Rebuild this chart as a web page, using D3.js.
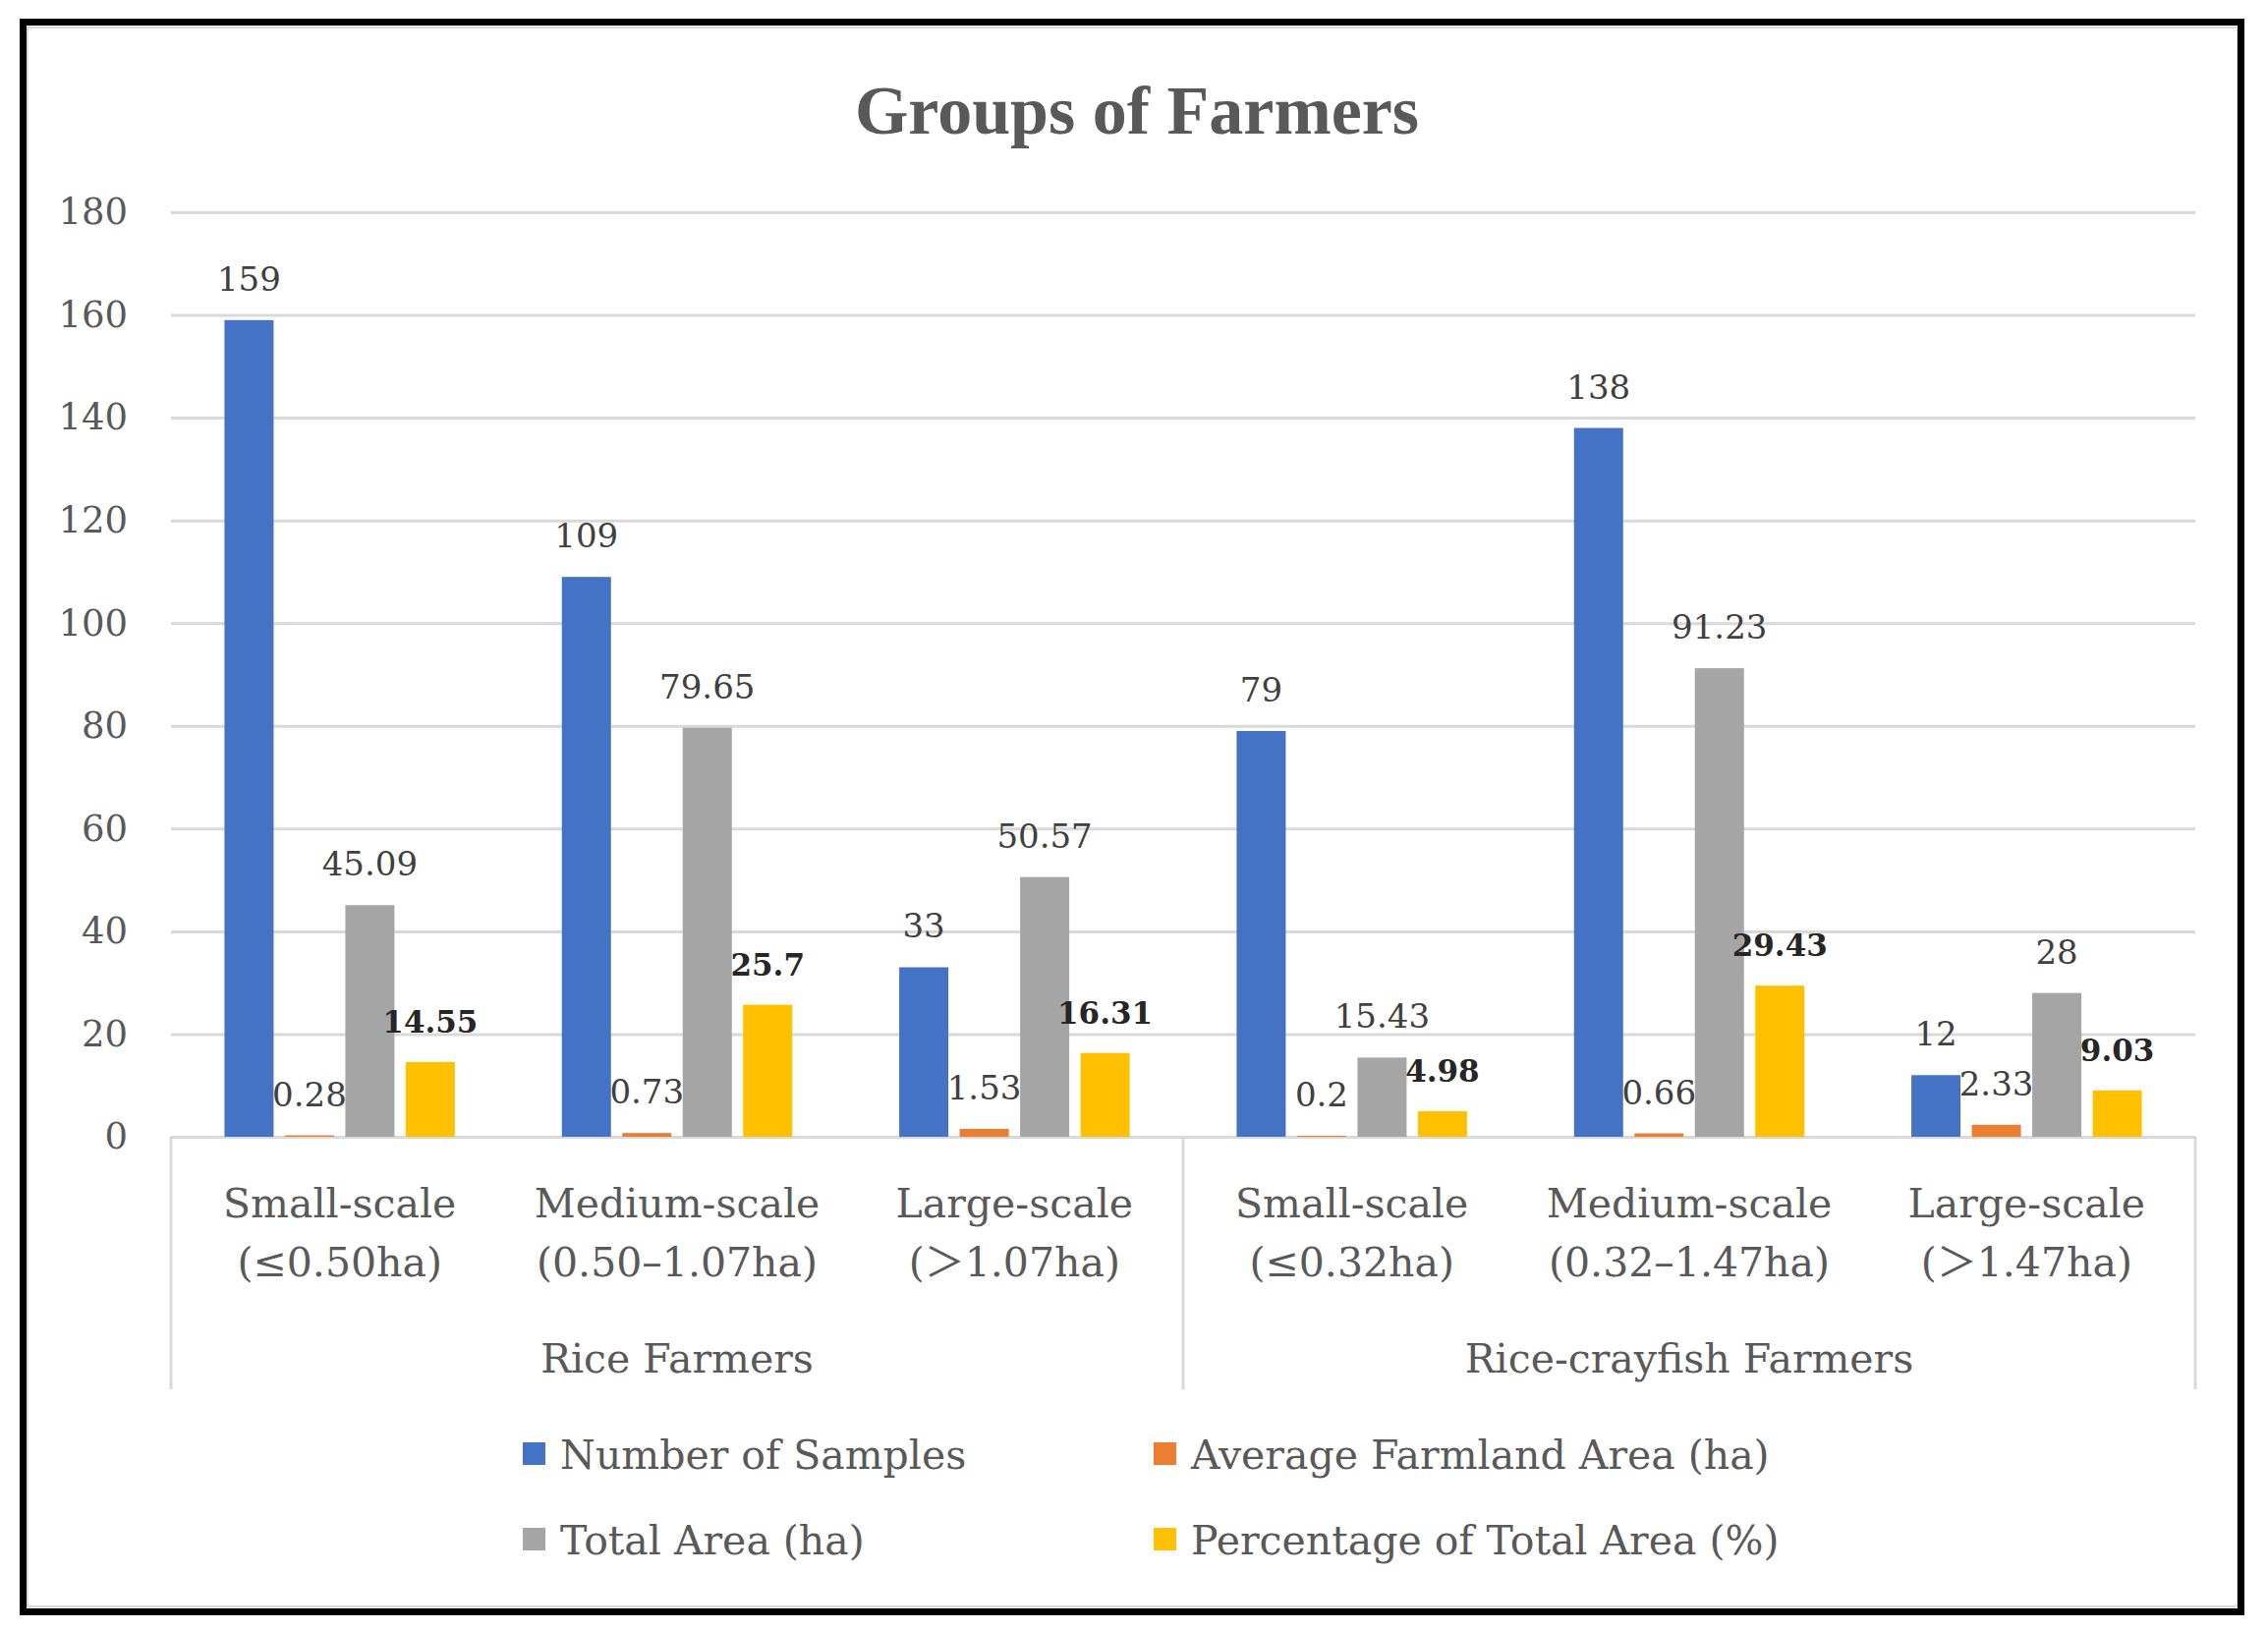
<!DOCTYPE html>
<html>
<head>
<meta charset="utf-8">
<script src="https://cdn.jsdelivr.net/npm/d3@7/dist/d3.min.js"></script>
<style>
  body { margin: 0; background: #fff; }
  svg text { font-family: "DejaVu Serif", "Noto Sans CJK SC", serif; }
</style>
</head>
<body>
<div id="chart"></div>
<script>
// chart data
var categories = ["Small-scale", "Medium-scale", "Large-scale", "Small-scale", "Medium-scale", "Large-scale"];
var ranges     = ["(≤0.50ha)", "(0.50–1.07ha)", "(＞1.07ha)", "(≤0.32ha)", "(0.32–1.47ha)", "(＞1.47ha)"];
var groups     = ["Rice Farmers", "Rice-crayfish Farmers"];
var seriesNames = ["Number of Samples", "Average Farmland Area (ha)", "Total Area (ha)", "Percentage of Total Area (%)"];
var samples    = [159, 109, 33, 79, 138, 12];
var avgArea    = [0.28, 0.73, 1.53, 0.2, 0.66, 2.33];
var totalArea  = [45.09, 79.65, 50.57, 15.43, 91.23, 28];
var pctArea    = [14.55, 25.7, 16.31, 4.98, 29.43, 9.03];
var yTicks     = [0, 20, 40, 60, 80, 100, 120, 140, 160, 180];

var colors = ['#4472C4', '#ED7D31', '#A5A5A5', '#FFC000'];
var textColor = '#595959';

var W = 2308, H = 1659;
var plotLeft = 174, plotRight = 2234, plotTop = 216, plotBottom = 1157;

var svg = d3.select("#chart").append("svg")
    .attr("width", W).attr("height", H);

svg.append("rect").attr("width", W).attr("height", H).attr("fill", "#fff");

// frame
svg.append("rect").attr("x", 28).attr("y", 28).attr("width", 2249).attr("height", 1607)
    .attr("fill", "none").attr("stroke", "#d9d9d9").attr("stroke-width", 2);
svg.append("rect").attr("x", 23.5).attr("y", 22.5).attr("width", 2257).attr("height", 1618)
    .attr("fill", "none").attr("stroke", "#000").attr("stroke-width", 7);

// title
svg.append("text").attr("x", 1157).attr("y", 136).attr("text-anchor", "middle")
    .style("font-family", "'Liberation Serif', serif")
    .attr("font-size", 70).attr("font-weight", "bold").attr("fill", textColor)
    .text("Groups of Farmers");

var x0 = d3.scaleBand().domain(d3.range(categories.length)).range([plotLeft, plotRight]);
var x1 = d3.scaleBand().domain(d3.range(seriesNames.length)).range([0, x0.bandwidth()])
    .paddingInner(0.187).paddingOuter(0.885);
var y = d3.scaleLinear().domain([0, 180]).range([plotBottom, plotTop]);

// y axis + gridlines
var yAxis = svg.append("g").attr("transform", "translate(" + plotLeft + ",0)")
    .call(d3.axisLeft(y).tickValues(yTicks).tickSize(-(plotRight - plotLeft)).tickPadding(44));
yAxis.select(".domain").remove();
yAxis.selectAll("line").attr("stroke", "#d9d9d9").attr("stroke-width", 3);
yAxis.selectAll("text").attr("font-size", 37).attr("fill", textColor)
    .style("font-family", "'DejaVu Serif', serif");

// category axis separators
[plotLeft, x0(3), plotRight].forEach(function(xx){
    svg.append("line").attr("x1", xx).attr("x2", xx).attr("y1", plotBottom).attr("y2", 1414)
        .attr("stroke", "#d9d9d9").attr("stroke-width", 3);
});

var seriesData = [samples, avgArea, totalArea, pctArea];

// bars
seriesData.forEach(function(vals, s){
    svg.append("g").selectAll("rect").data(vals).enter().append("rect")
        .attr("x", function(d, i){ return x0(i) + x1(s); })
        .attr("y", function(d){ return y(d); })
        .attr("width", x1.bandwidth())
        .attr("height", function(d){ return y(0) - y(d); })
        .attr("fill", colors[s]);
});

// data labels
seriesData.forEach(function(vals, s){
    svg.append("g").selectAll("text").data(vals).enter().append("text")
        .attr("x", function(d, i){ return x0(i) + x1(s) + x1.bandwidth() / 2; })
        .attr("y", function(d){ return y(d) - 30; })
        .attr("text-anchor", "middle")
        .attr("font-size", s == 3 ? 31 : 34)
        .attr("font-weight", s == 3 ? "bold" : "normal")
        .attr("fill", s == 3 ? "#262626" : "#404040")
        .text(function(d){ return d; });
});

// category labels
svg.append("g").selectAll("text").data(categories).enter().append("text")
    .attr("x", function(d, i){ return x0(i) + x0.bandwidth() / 2; })
    .attr("y", 1239).attr("text-anchor", "middle")
    .attr("font-size", 41).attr("fill", textColor)
    .text(function(d){ return d; });
svg.append("g").selectAll("text").data(ranges).enter().append("text")
    .attr("x", function(d, i){ return x0(i) + x0.bandwidth() / 2; })
    .attr("y", 1299).attr("text-anchor", "middle")
    .attr("font-size", 41).attr("fill", textColor)
    .text(function(d){ return d; });
svg.append("g").selectAll("text").data(groups).enter().append("text")
    .attr("x", function(d, i){ return (x0(i * 3) + x0(i * 3 + 2) + x0.bandwidth()) / 2; })
    .attr("y", 1397).attr("text-anchor", "middle")
    .attr("font-size", 41).attr("fill", textColor)
    .text(function(d){ return d; });

// legend
var legendX = [532, 1174], legendY = [1495, 1582];
var lg = svg.append("g").selectAll("g").data(seriesNames).enter().append("g")
    .attr("transform", function(d, i){
        return "translate(" + legendX[i % 2] + "," + legendY[Math.floor(i / 2)] + ")";
    });
lg.append("rect").attr("x", 0).attr("y", -27).attr("width", 23).attr("height", 23)
    .attr("fill", function(d, i){ return colors[i]; });
lg.append("text").attr("x", 38).attr("y", 0)
    .attr("font-size", 41).attr("fill", textColor)
    .text(function(d){ return d; });
</script>
</body>
</html>
